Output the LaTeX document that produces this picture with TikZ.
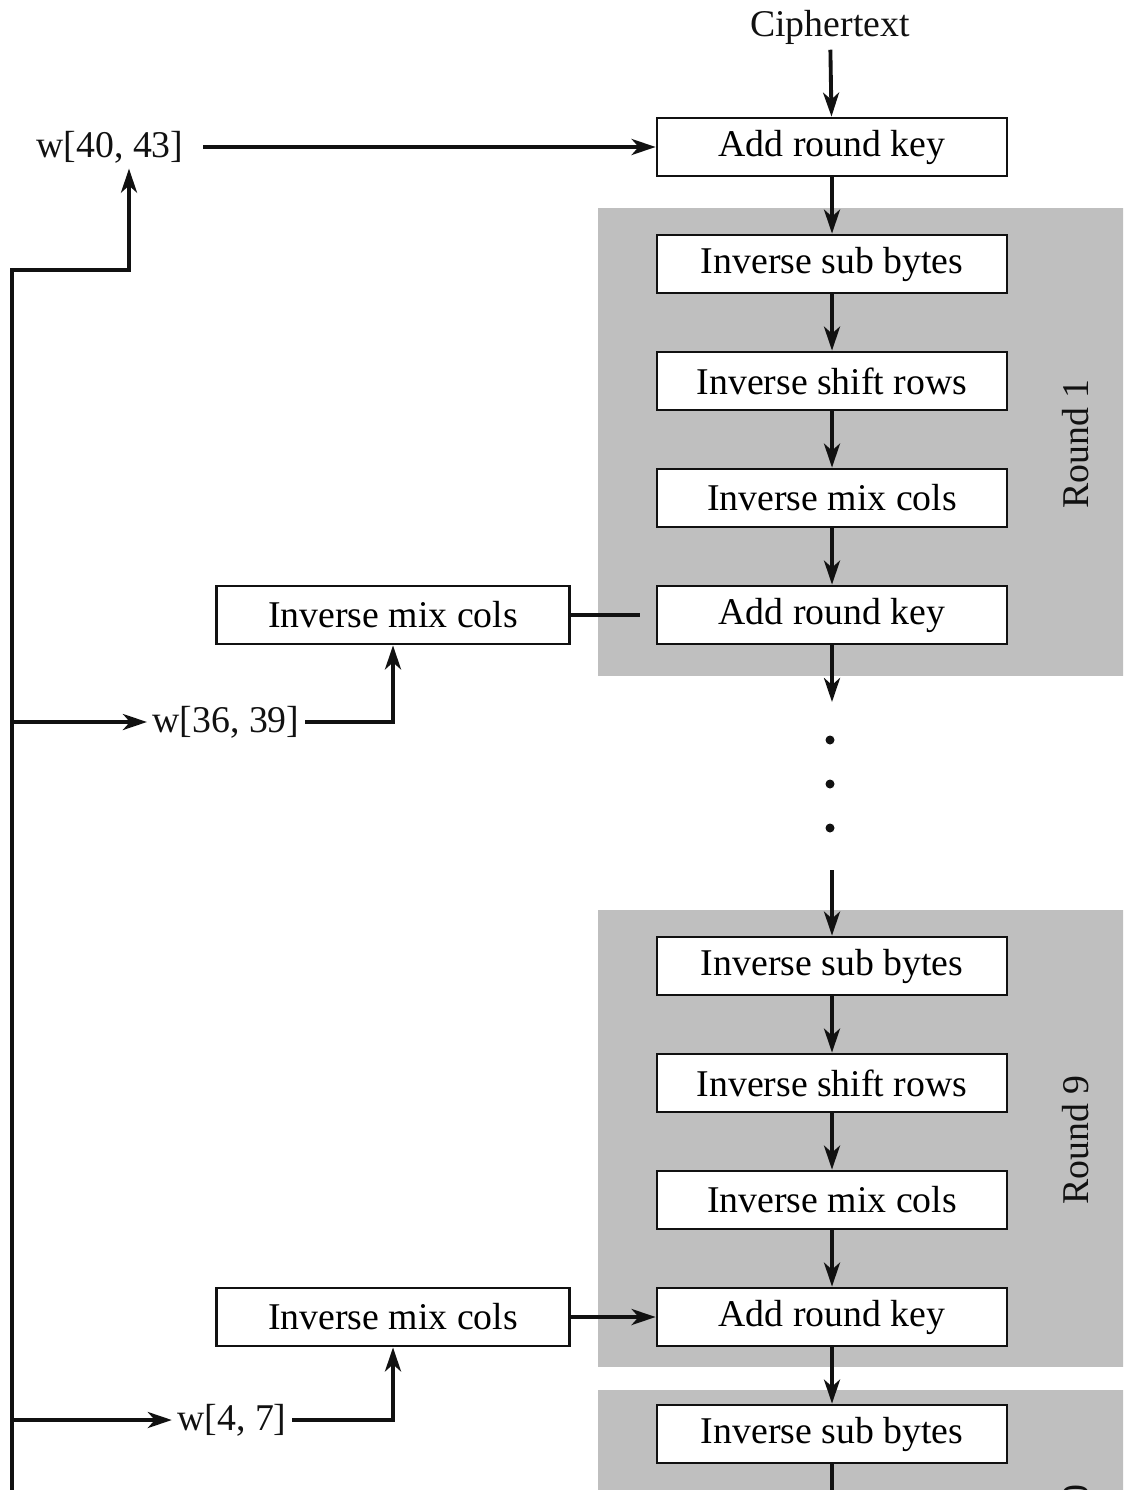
\documentclass[tikz,border=0pt]{standalone}
\usepackage{fontspec}
\setmainfont{Liberation Serif}
\usetikzlibrary{arrows.meta,positioning}
\definecolor{ink}{HTML}{111111}
\definecolor{roundgray}{HTML}{BFBFBF}
\tikzset{
  stagebox/.style={draw=ink,fill=white,line width=1.6pt,minimum width=7cm,minimum height=1.16cm,inner sep=0pt,font=\fontsize{21.5}{24}\selectfont},
  arrow/.style={-{Stealth[length=4.8mm,width=3.2mm,inset=1.4mm]},line width=2.2pt,draw=ink},
  wire/.style={line width=2.2pt,draw=ink},
  keylab/.style={font=\fontsize{21.5}{24}\selectfont,inner sep=3pt,text=ink},
  roundlab/.style={font=\fontsize{21.5}{24}\selectfont,rotate=90,text=ink},
  dot/.style={circle,fill=ink,inner sep=0pt,minimum size=0.18cm}
}

\begin{document}
\begin{tikzpicture}[x=0.02cm,y=-0.02cm]
    \useasboundingbox (0,0) rectangle (1123,1490);
    \clip (0,0) rectangle (1123,1490);

    % round panels
    \fill[roundgray] (598,208) rectangle (1130,676);
    \fill[roundgray] (598,910) rectangle (1130,1367);
    \fill[roundgray] (598,1390) rectangle (1130,1500);
    \node[roundlab] (rnd1) at (1076,444) {Round 1};
    \node[roundlab] (rnd9) at (1076,1140) {Round 9};
    \node[roundlab] (rnd10) at (1076,1559) {Round 10};

    % main column
    \node[keylab] (ct) at (830,27) {Ciphertext};
    \node[stagebox] (ark0) at (832,147) {Add round key};
    \node[stagebox] (isb1) at (832,264) {Inverse sub bytes};
    \node[stagebox] (isr1) at (832,381) {Inverse shift rows};
    \node[stagebox] (imc1) at (832,498) {Inverse mix cols};
    \node[stagebox] (ark1) at (832,615) {Add round key};
    \coordinate (gapA) at (832,702);
    \node[dot] (d1) at (830,740) {};
    \node[dot] (d2) at (830,784) {};
    \node[dot] (d3) at (830,828) {};
    \coordinate (gapB) at (832,870);
    \node[stagebox] (isb9) at (832,966) {Inverse sub bytes};
    \node[stagebox] (isr9) at (832,1083) {Inverse shift rows};
    \node[stagebox] (imc9) at (832,1200) {Inverse mix cols};
    \node[stagebox] (ark9) at (832,1317) {Add round key};
    \node[stagebox] (isb10) at (832,1434) {Inverse sub bytes};
    \coordinate (tail) at (832,1500);

    % key side
    \node[keylab] (w40) at (110,147) {w[40, 43]};
    \node[stagebox,minimum width=7.06cm] (kmc1) at (393,615) {Inverse mix cols};
    \node[keylab] (w36) at (226,722) {w[36, 39]};
    \node[stagebox,minimum width=7.06cm] (kmc9) at (393,1317) {Inverse mix cols};
    \node[keylab] (w4) at (232,1420) {w[4, 7]};
    \coordinate (busTop) at (12,270);
    \coordinate (busBend) at (129,270);
    \coordinate (busEnd) at (12,1500);
    \coordinate (stub1) at (640,615);

    \draw[arrow] (ct) -- (ark0);
    \draw[arrow] (ark0) -- (isb1);
    \draw[arrow] (isb1) -- (isr1);
    \draw[arrow] (isr1) -- (imc1);
    \draw[arrow] (imc1) -- (ark1);
    \draw[arrow] (ark1) -- (gapA);
    \draw[arrow] (gapB) -- (isb9);
    \draw[arrow] (isb9) -- (isr9);
    \draw[arrow] (isr9) -- (imc9);
    \draw[arrow] (imc9) -- (ark9);
    \draw[arrow] (ark9) -- (isb10);
    \draw[wire] (isb10) -- (tail);

    \draw[arrow,shorten <=8pt] (w40) -- (ark0);
    \draw[arrow] (busEnd) -- (busTop) -- (busBend) -- (busBend |- w40.south);
    \draw[arrow] (busTop |- w36) -- (w36.west);
    \draw[arrow] (w36.east) -| (kmc1.south);
    \draw[wire] (kmc1) -- (stub1);
    \draw[arrow] (busTop |- w4) -- (w4.west);
    \draw[arrow] (w4.east) -| (kmc9.south);
    \draw[arrow] (kmc9) -- (ark9);
\end{tikzpicture}
\end{document}
